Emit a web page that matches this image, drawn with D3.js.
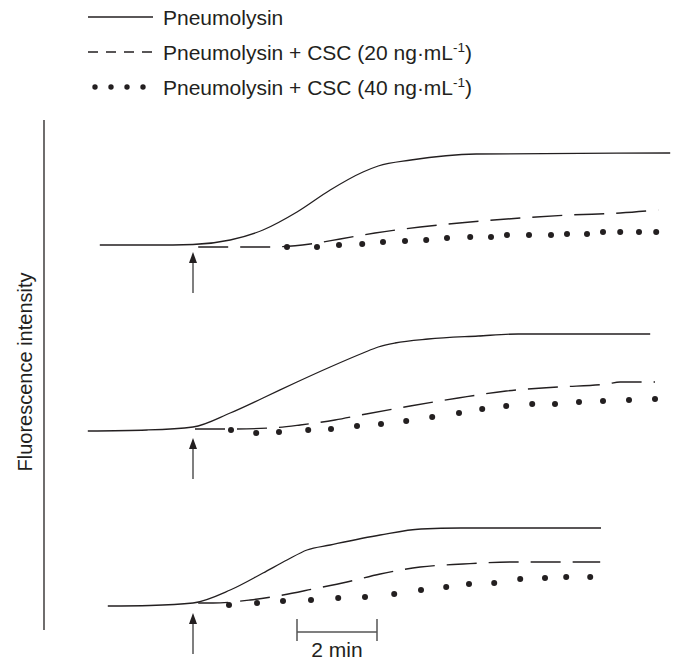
<!DOCTYPE html>
<html>
<head>
<meta charset="utf-8">
<script src="https://cdnjs.cloudflare.com/ajax/libs/d3/7.8.5/d3.min.js"></script>
<style>
    html, body { margin: 0; padding: 0; background: #fff; }
    svg { display: block; font-family: "Liberation Sans", Arial, sans-serif; }
</style>
</head>
<body>
<div id="chart"></div>
<script>
'use strict';

// time in minutes after pneumolysin addition (arrow), fluorescence in a.u. above baseline
var legendLabels = ['Pneumolysin', 'Pneumolysin + CSC (20 ng\u00b7mL', 'Pneumolysin + CSC (40 ng\u00b7mL'];
var yAxisLabel = 'Fluorescence intensity';
var scaleBarMinutes = 2;
var scaleBarLabel = '2 min';

// panel 1
var p1Solid = [[-2.33, 0], [-1, 0], [0, 0.5], [0.93, 5], [1.75, 15], [2.6, 33], [3.43, 55], [4.25, 73],
    [4.63, 79], [5.45, 85], [7.08, 91], [11.93, 92]];
var p1Dashed = [[0.13, -2], [1.93, -2], [2.93, 1], [3.68, 6], [4.55, 12], [5.68, 18], [6.93, 23],
    [8.18, 27], [9.43, 30], [10.68, 32], [11.63, 35]];
var p1Dots = [[2.35, -2], [3.1, -2], [3.65, 0], [4.23, 1], [4.75, 3], [5.3, 4], [5.83, 5], [6.35, 7],
    [6.93, 8], [7.45, 8], [7.85, 10], [8.4, 10], [8.95, 10], [9.35, 11], [9.85, 11], [10.25, 13],
    [10.68, 13], [11.15, 13], [11.58, 13]];

// panel 2
var p2Solid = [[-2.63, 0], [-1.15, 1], [0, 4], [0.93, 18], [1.75, 33], [2.6, 49], [3.43, 64], [4.25, 78],
    [4.63, 84], [5.05, 88], [5.88, 92], [7.13, 95], [8.13, 97], [11.43, 97]];
var p2Dashed = [[0.05, 2], [0.93, 2], [1.93, 3], [2.68, 6], [3.55, 11], [4.33, 17], [5.43, 25],
    [6.63, 33], [7.83, 40], [9.13, 44], [10.35, 47], [10.68, 49], [11.55, 49]];
var p2Dots = [[0.95, 1], [1.58, -2], [2.15, -1], [2.88, 1], [3.45, 2], [4.1, 5], [4.7, 7], [5.33, 10],
    [5.98, 14], [6.65, 18], [7.23, 22], [7.83, 25], [8.48, 27], [9.05, 27], [9.65, 29], [10.25, 30],
    [10.9, 31], [11.55, 32]];

// panel 3
var p3Solid = [[-2.13, 0], [-1.08, 0.5], [0, 3], [0.93, 16], [1.75, 33], [2.35, 46], [2.85, 56],
    [3.43, 61], [4.68, 71], [5.7, 77], [6.7, 78], [10.2, 78]];
var p3Dashed = [[0.13, 3], [0.5, 3], [1.43, 6], [2.25, 11], [3, 17], [3.85, 24], [4.68, 32], [5.68, 39],
    [6.75, 42], [7.95, 44], [9.1, 44], [10.18, 44]];
var p3Dots = [[0.9, 1], [1.6, 3], [2.25, 5], [2.95, 6], [3.63, 8], [4.3, 9], [5.03, 12], [5.7, 16],
    [6.33, 19], [6.9, 22], [7.53, 23], [8.18, 27], [8.8, 28], [9.33, 29], [9.93, 29]];

var INK = '#231f20';
var GREY = '#555';
var WIDTH = 678;
var HEIGHT = 661;
var PANEL_BASES = [245, 431, 606];
var DASH = '30,12';
var FONT = 21;

var panels = [
    { solid: p1Solid, dashed: p1Dashed, dots: p1Dots },
    { solid: p2Solid, dashed: p2Dashed, dots: p2Dots },
    { solid: p3Solid, dashed: p3Dashed, dots: p3Dots }
];

var svg = d3.select('#chart').append('svg')
    .attr('width', WIDTH)
    .attr('height', HEIGHT);

var x = d3.scaleLinear().domain([0, 2]).range([193, 273]);

function panelScale(base) {
    return d3.scaleLinear().domain([0, 100]).range([base, base - 100]);
}

function drawArrow(g, xPos, tipY) {
    g.append('line')
        .attr('x1', xPos).attr('x2', xPos)
        .attr('y1', tipY + 8).attr('y2', tipY + 41)
        .attr('stroke', GREY)
        .attr('stroke-width', 1.5);
    g.append('path')
        .attr('d', 'M' + xPos + ',' + tipY + 'L' + (xPos - 4) + ',' + (tipY + 11) + 'L' + (xPos + 4) + ',' + (tipY + 11) + 'Z')
        .attr('fill', INK);
}

function drawPanel(panel, i) {
    var y = panelScale(PANEL_BASES[i]);
    var g = svg.append('g').attr('class', 'panel');
    var line = d3.line()
        .x(function (d) { return x(d[0]); })
        .y(function (d) { return y(d[1]); })
        .curve(d3.curveMonotoneX);

    g.append('path')
        .datum(panel.solid)
        .attr('d', line)
        .attr('fill', 'none')
        .attr('stroke', INK)
        .attr('stroke-width', 1.3);

    g.append('path')
        .datum(panel.dashed)
        .attr('d', line)
        .attr('fill', 'none')
        .attr('stroke', INK)
        .attr('stroke-width', 1.4)
        .attr('stroke-dasharray', DASH);

    g.selectAll('circle')
        .data(panel.dots)
        .enter().append('circle')
        .attr('cx', function (d) { return x(d[0]); })
        .attr('cy', function (d) { return y(d[1]); })
        .attr('r', 3)
        .attr('fill', INK);

    drawArrow(g, x(0), y(0) + 7);
}

panels.forEach(drawPanel);

// vertical axis line and title
svg.append('line')
    .attr('x1', 44).attr('x2', 44)
    .attr('y1', 120).attr('y2', 630)
    .attr('stroke', INK)
    .attr('stroke-width', 1.3);

svg.append('text')
    .attr('transform', 'translate(32,372) rotate(-90)')
    .attr('text-anchor', 'middle')
    .attr('font-size', 20)
    .attr('fill', INK)
    .text(yAxisLabel);

// scale bar
var barY = 632;
var barX0 = x(2.6);
var barX1 = x(2.6 + scaleBarMinutes);
var bar = svg.append('g').attr('stroke', GREY).attr('stroke-width', 1.5);
bar.append('line').attr('x1', barX0).attr('x2', barX1).attr('y1', barY).attr('y2', barY);
bar.append('line').attr('x1', barX0).attr('x2', barX0).attr('y1', barY - 13).attr('y2', barY + 9);
bar.append('line').attr('x1', barX1).attr('x2', barX1).attr('y1', barY - 13).attr('y2', barY + 9);
svg.append('text')
    .attr('x', (barX0 + barX1) / 2)
    .attr('y', 657)
    .attr('text-anchor', 'middle')
    .attr('font-size', FONT)
    .attr('fill', INK)
    .text(scaleBarLabel);

// legend
var legend = svg.append('g').attr('class', 'legend');
var rowY = [17, 52, 87];
legend.append('line')
    .attr('x1', 88).attr('x2', 153)
    .attr('y1', rowY[0]).attr('y2', rowY[0])
    .attr('stroke', INK).attr('stroke-width', 1.3);
legend.append('line')
    .attr('x1', 88).attr('x2', 153)
    .attr('y1', rowY[1]).attr('y2', rowY[1])
    .attr('stroke', INK).attr('stroke-width', 1.3)
    .attr('stroke-dasharray', '10,8');
legend.selectAll('circle')
    .data([95, 111, 127, 143])
    .enter().append('circle')
    .attr('cx', function (d) { return d; })
    .attr('cy', rowY[2])
    .attr('r', 2.7)
    .attr('fill', INK);

legendLabels.forEach(function (label, i) {
    var t = legend.append('text')
        .attr('x', 163)
        .attr('y', rowY[i] + 8)
        .attr('font-size', FONT)
        .attr('fill', INK);
    t.append('tspan').text(label);
    if (i > 0) {
        t.append('tspan').attr('font-size', 13.5).attr('dy', -8).text('-1');
        t.append('tspan').attr('dy', 8).text(')');
    }
});
</script>
</body>
</html>
